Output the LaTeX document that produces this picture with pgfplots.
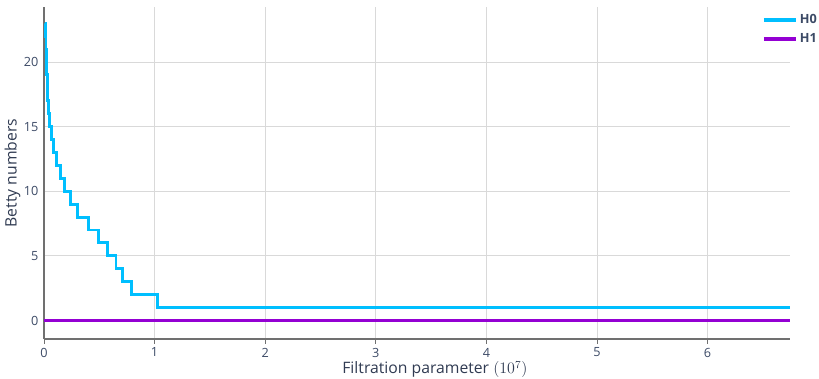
\documentclass[border=0pt]{standalone}
\usepackage{fontspec}
\setmainfont{Open Sans}
\usepackage{pgfplots}
\pgfplotsset{compat=1.18}
\definecolor{hzero}{HTML}{00BFFF}
\definecolor{hone}{HTML}{9400D3}
\definecolor{tickc}{HTML}{3C4A66}
\definecolor{gridc}{HTML}{D9D9D9}
\definecolor{axc}{HTML}{707070}
\begin{document}
\begin{tikzpicture}
\begin{axis}[
  scale only axis,
  width=559.5pt, height=249pt,
  xmin=0, xmax=6.745, ymin=-1.43, ymax=24.25,
  axis x line*=bottom, axis y line*=left,
  axis line style={axc, line width=0.9pt},
  xtick={0,1,2,3,4,5,6}, ytick={0,5,10,15,20},
  grid=major, major grid style={gridc, line width=0.6pt},
  tick style={axc, line width=0.6pt},
  major tick length=3.5pt,
  ytick style={draw=none},
  tick align=outside,
  ticklabel style={font=\fontsize{9.5}{11}\selectfont, text=tickc},
  yticklabel style={xshift=0.5pt, inner sep=1pt},
  xticklabel style={inner sep=1pt, yshift=-2pt},
  /pgf/number format/assume math mode=true,
  xlabel={Filtration parameter $\left(10^{7}\right)$},
  ylabel={Betty numbers},
  label style={font=\fontsize{11.8}{14}\selectfont, text=tickc!80!black, inner sep=0pt},
  xlabel style={at={(axis description cs:0.524,-0.092)}, anchor=center},
  ylabel style={at={(axis description cs:-0.042,0.5)}, anchor=center},
  legend style={at={(axis description cs:0.962,0.985)}, anchor=north west, draw=none, fill=none,
    font=\bfseries\fontsize{9.5}{11}\selectfont, text=tickc, inner sep=0pt, row sep=3pt,
    nodes={inner sep=1.5pt}},
  legend cell align=left,
  legend image code/.code={\draw[#1, line width=3pt] (0pt,0pt) -- (24pt,0pt);},
]
\addplot[const plot, hzero, line width=2.2pt] coordinates {
(0.012,23) (0.015,22) (0.018,21) (0.021,20) (0.025,19) (0.029,18) (0.033,17) (0.038,16)
(0.050,15) (0.068,14) (0.090,13) (0.110,12) (0.147,11) (0.184,10) (0.240,9) (0.305,8)
(0.400,7) (0.490,6) (0.576,5) (0.651,4) (0.711,3) (0.787,2) (1.030,1) (6.745,1)
};
\addlegendentry{H0}
\addplot[hone, line width=2.2pt] coordinates {(0,0) (6.745,0)};
\addlegendentry{H1}
\end{axis}
\pgfresetboundingbox
\path (current axis.south west) ++(-33pt,-29.25pt) coordinate (bl);
\path (current axis.north east) ++(21.75pt,5.25pt) coordinate (tr);
\path (bl) rectangle (tr);
\end{tikzpicture}
\end{document}
